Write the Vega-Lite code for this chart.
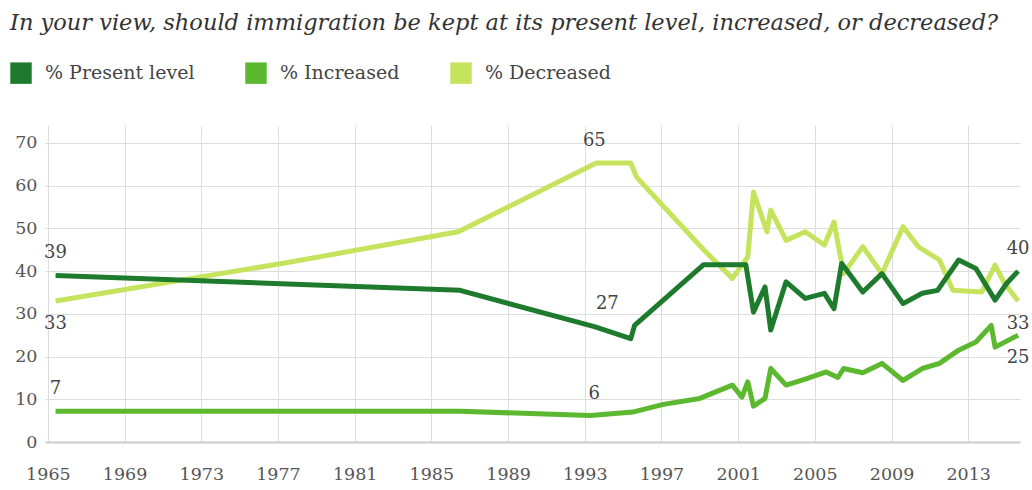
{
  "$schema": "https://vega.github.io/schema/vega-lite/v6.json",
  "width": 975,
  "height": 317,
  "autosize": {"type": "none"},
  "padding": {"left": 45, "top": 125, "right": 12, "bottom": 48},
  "background": "white",
  "title": {
    "text": "In your view, should immigration be kept at its present level, increased, or decreased?",
    "anchor": "start",
    "frame": "group",
    "dx": -35,
    "offset": 28,
    "font": "DejaVu Serif",
    "fontStyle": "italic",
    "fontWeight": "normal",
    "fontSize": 22.5,
    "color": "#333333"
  },
  "config": {"view": {"stroke": null}, "font": "DejaVu Serif"},
  "datasets": {
    "series": [
      {"series": "% Decreased", "year": 1965.4, "pct": 33},
      {"series": "% Decreased", "year": 1977.5, "pct": 42},
      {"series": "% Decreased", "year": 1986.4, "pct": 49.2},
      {"series": "% Decreased", "year": 1993.6, "pct": 65.3},
      {"series": "% Decreased", "year": 1995.4, "pct": 65.3},
      {"series": "% Decreased", "year": 1995.7, "pct": 62},
      {"series": "% Decreased", "year": 1999.2, "pct": 45},
      {"series": "% Decreased", "year": 2000.7, "pct": 38.3},
      {"series": "% Decreased", "year": 2001.5, "pct": 43.3},
      {"series": "% Decreased", "year": 2001.8, "pct": 58.5},
      {"series": "% Decreased", "year": 2002.5, "pct": 49.2},
      {"series": "% Decreased", "year": 2002.7, "pct": 54.3},
      {"series": "% Decreased", "year": 2003.5, "pct": 47.2},
      {"series": "% Decreased", "year": 2004.5, "pct": 49.2},
      {"series": "% Decreased", "year": 2005.5, "pct": 46.1},
      {"series": "% Decreased", "year": 2006.0, "pct": 51.5},
      {"series": "% Decreased", "year": 2006.5, "pct": 39.4},
      {"series": "% Decreased", "year": 2007.5, "pct": 45.7},
      {"series": "% Decreased", "year": 2008.5, "pct": 39.4},
      {"series": "% Decreased", "year": 2009.6, "pct": 50.4},
      {"series": "% Decreased", "year": 2010.4, "pct": 45.7},
      {"series": "% Decreased", "year": 2011.5, "pct": 42.6},
      {"series": "% Decreased", "year": 2012.2, "pct": 35.5},
      {"series": "% Decreased", "year": 2013.7, "pct": 35.1},
      {"series": "% Decreased", "year": 2014.4, "pct": 41.4},
      {"series": "% Decreased", "year": 2014.9, "pct": 37.1},
      {"series": "% Decreased", "year": 2015.6, "pct": 33},
      {"series": "% Increased", "year": 1965.4, "pct": 7.2},
      {"series": "% Increased", "year": 1977.5, "pct": 7.2},
      {"series": "% Increased", "year": 1986.5, "pct": 7.2},
      {"series": "% Increased", "year": 1993.3, "pct": 6.2},
      {"series": "% Increased", "year": 1995.5, "pct": 7},
      {"series": "% Increased", "year": 1997.1, "pct": 8.8},
      {"series": "% Increased", "year": 1999.0, "pct": 10.2},
      {"series": "% Increased", "year": 2000.7, "pct": 13.3},
      {"series": "% Increased", "year": 2001.2, "pct": 10.5},
      {"series": "% Increased", "year": 2001.5, "pct": 14.1},
      {"series": "% Increased", "year": 2001.8, "pct": 8.4},
      {"series": "% Increased", "year": 2002.4, "pct": 10.2},
      {"series": "% Increased", "year": 2002.7, "pct": 17.2},
      {"series": "% Increased", "year": 2003.5, "pct": 13.3},
      {"series": "% Increased", "year": 2004.5, "pct": 14.7},
      {"series": "% Increased", "year": 2005.6, "pct": 16.4},
      {"series": "% Increased", "year": 2006.2, "pct": 15.1},
      {"series": "% Increased", "year": 2006.5, "pct": 17.2},
      {"series": "% Increased", "year": 2007.5, "pct": 16.2},
      {"series": "% Increased", "year": 2008.5, "pct": 18.4},
      {"series": "% Increased", "year": 2009.6, "pct": 14.4},
      {"series": "% Increased", "year": 2010.6, "pct": 17.2},
      {"series": "% Increased", "year": 2011.5, "pct": 18.4},
      {"series": "% Increased", "year": 2012.5, "pct": 21.5},
      {"series": "% Increased", "year": 2013.4, "pct": 23.4},
      {"series": "% Increased", "year": 2014.2, "pct": 27.3},
      {"series": "% Increased", "year": 2014.4, "pct": 22.2},
      {"series": "% Increased", "year": 2015.6, "pct": 25},
      {"series": "% Present level", "year": 1965.4, "pct": 39},
      {"series": "% Present level", "year": 1977.5, "pct": 37},
      {"series": "% Present level", "year": 1986.5, "pct": 35.5},
      {"series": "% Present level", "year": 1993.5, "pct": 27},
      {"series": "% Present level", "year": 1995.4, "pct": 24.2},
      {"series": "% Present level", "year": 1995.6, "pct": 27.3},
      {"series": "% Present level", "year": 1999.2, "pct": 41.5},
      {"series": "% Present level", "year": 2001.4, "pct": 41.5},
      {"series": "% Present level", "year": 2001.8, "pct": 30.4},
      {"series": "% Present level", "year": 2002.4, "pct": 36.3},
      {"series": "% Present level", "year": 2002.7, "pct": 26.2},
      {"series": "% Present level", "year": 2003.5, "pct": 37.5},
      {"series": "% Present level", "year": 2004.5, "pct": 33.6},
      {"series": "% Present level", "year": 2005.5, "pct": 34.8},
      {"series": "% Present level", "year": 2006.0, "pct": 31.2},
      {"series": "% Present level", "year": 2006.4, "pct": 41.8},
      {"series": "% Present level", "year": 2007.5, "pct": 35.1},
      {"series": "% Present level", "year": 2008.5, "pct": 39.4},
      {"series": "% Present level", "year": 2009.6, "pct": 32.4},
      {"series": "% Present level", "year": 2010.6, "pct": 34.8},
      {"series": "% Present level", "year": 2011.4, "pct": 35.5},
      {"series": "% Present level", "year": 2012.5, "pct": 42.6},
      {"series": "% Present level", "year": 2013.4, "pct": 40.6},
      {"series": "% Present level", "year": 2014.4, "pct": 33.2},
      {"series": "% Present level", "year": 2015.0, "pct": 37.1},
      {"series": "% Present level", "year": 2015.6, "pct": 40}
    ],
    "labels": [
      {"series": "% Present level", "year": 1965.4, "pct": 39, "label": "39"},
      {"series": "% Decreased", "year": 1965.4, "pct": 33, "label": "33"},
      {"series": "% Increased", "year": 1965.4, "pct": 7.2, "label": "7"},
      {"series": "% Decreased", "year": 1993.5, "pct": 65.3, "label": "65"},
      {"series": "% Present level", "year": 1993.5, "pct": 27, "label": "27"},
      {"series": "% Increased", "year": 1993.5, "pct": 6.2, "label": "6"},
      {"series": "% Present level", "year": 2015.6, "pct": 40, "label": "40"},
      {"series": "% Decreased", "year": 2015.6, "pct": 33, "label": "33"},
      {"series": "% Increased", "year": 2015.6, "pct": 25, "label": "25"}
    ]
  },
  "encoding": {
    "x": {
      "field": "year",
      "type": "quantitative",
      "scale": {"domain": [1964.85, 2015.7], "nice": false, "zero": false},
      "axis": {
        "title": null,
        "values": [1965, 1969, 1973, 1977, 1981, 1985, 1989, 1993, 1997, 2001, 2005, 2009, 2013],
        "format": "d",
        "grid": true,
        "gridColor": "#dddddd",
        "gridWidth": 1,
        "ticks": false,
        "domain": true,
        "domainColor": "#cccccc",
        "domainWidth": 2,
        "labelFont": "DejaVu Serif",
        "labelFontSize": 17.5,
        "labelColor": "#555555",
        "labelPadding": 23
      }
    },
    "y": {
      "field": "pct",
      "type": "quantitative",
      "scale": {"domain": [0, 74.2], "nice": false},
      "axis": {
        "title": null,
        "values": [0, 10, 20, 30, 40, 50, 60, 70],
        "grid": true,
        "gridColor": "#dddddd",
        "gridWidth": 1,
        "ticks": false,
        "domain": false,
        "labelFont": "DejaVu Serif",
        "labelFontSize": 17.5,
        "labelColor": "#555555",
        "labelPadding": 8
      }
    }
  },
  "layer": [
    {
      "data": {"name": "series"},
      "mark": {"type": "line", "strokeWidth": 5, "strokeJoin": "round"},
      "encoding": {
        "color": {
          "field": "series",
          "type": "nominal",
          "sort": null,
          "scale": {
            "domain": ["% Present level", "% Increased", "% Decreased"],
            "range": ["#1e7b2e", "#5cb82e", "#c5e35c"]
          },
          "legend": {
            "orient": "none",
            "legendX": -35,
            "legendY": -63,
            "direction": "horizontal",
            "title": null,
            "symbolType": "square",
            "symbolSize": 460,
            "symbolStrokeWidth": 0,
            "labelFont": "DejaVu Serif",
            "labelFontSize": 19,
            "labelColor": "#444444",
            "labelOffset": 13,
            "columnPadding": 50,
            "encode": {
              "symbols": {"update": {"fill": {"scale": "color", "field": "value"}, "opacity": {"value": 1}}}
            }
          }
        },
        "order": {"field": "year", "type": "quantitative"}
      }
    },
    {
      "data": {"name": "labels"},
      "transform": [{"filter": "!(datum.series == '% Decreased' && datum.year != 1993.5) && !(datum.series == '% Increased' && datum.year > 2000) && datum.label != '27'"}],
      "mark": {"type": "text", "font": "DejaVu Serif", "fontSize": 18, "color": "#444444", "dy": -22, "align": "center"},
      "encoding": {"text": {"field": "label"}}
    },
    {
      "data": {"name": "labels"},
      "transform": [{"filter": "(datum.series == '% Decreased' && datum.year != 1993.5) || (datum.series == '% Increased' && datum.year > 2000)"}],
      "mark": {"type": "text", "font": "DejaVu Serif", "fontSize": 18, "color": "#444444", "dy": 23, "align": "center"},
      "encoding": {"text": {"field": "label"}}
    },
    {
      "data": {"name": "labels"},
      "transform": [{"filter": "datum.label == '27'"}],
      "mark": {"type": "text", "font": "DejaVu Serif", "fontSize": 18, "color": "#444444", "dy": -23, "dx": 13, "align": "center"},
      "encoding": {"text": {"field": "label"}}
    }
  ]
}
